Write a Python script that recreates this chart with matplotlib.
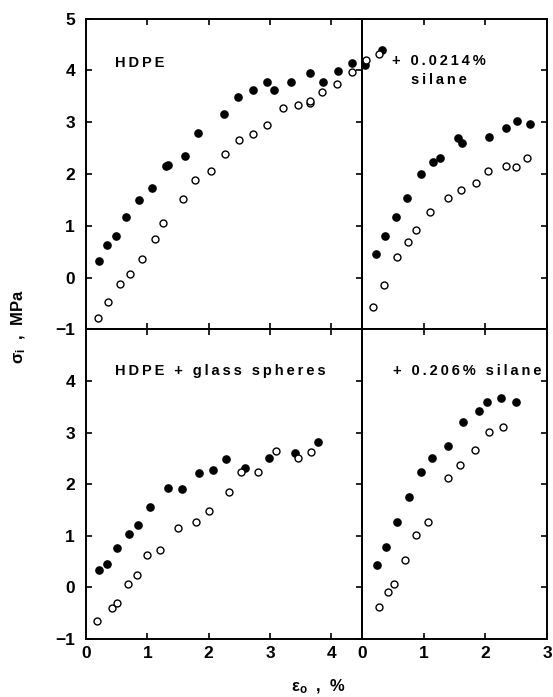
import matplotlib
matplotlib.use("Agg")
import matplotlib.pyplot as plt

plt.rcParams['font.family'] = ['Liberation Sans', 'DejaVu Sans']
plt.rcParams['font.weight'] = 'bold'
plt.rcParams['mathtext.fontset'] = 'custom'
plt.rcParams['mathtext.rm'] = 'Liberation Sans:bold'
plt.rcParams['mathtext.bf'] = 'Liberation Sans:bold'
plt.rcParams['mathtext.default'] = 'regular'

# HDPE (top left)
hdpe_fill_x = [0.21, 0.34, 0.49, 0.66, 0.86, 1.08, 1.31, 1.33, 1.61, 1.83, 2.25, 2.48, 2.73,
               2.95, 3.06, 3.35, 3.65, 3.86, 4.11, 4.33, 4.55, 4.83]
hdpe_fill_y = [0.32, 0.63, 0.81, 1.16, 1.50, 1.73, 2.15, 2.18, 2.35, 2.80, 3.16, 3.49, 3.63,
               3.78, 3.63, 3.77, 3.95, 3.77, 3.99, 4.15, 4.10, 4.39]
hdpe_open_x = [0.19, 0.36, 0.56, 0.72, 0.92, 1.13, 1.26, 1.58, 1.78, 2.03, 2.26, 2.49, 2.73,
               2.95, 3.21, 3.46, 3.65, 3.65, 3.85, 4.09, 4.33, 4.56, 4.78]
hdpe_open_y = [-0.78, -0.48, -0.13, 0.06, 0.36, 0.75, 1.05, 1.52, 1.88, 2.05, 2.38, 2.65, 2.78,
               2.94, 3.28, 3.34, 3.37, 3.41, 3.58, 3.74, 3.97, 4.21, 4.31]

# + 0.0214% silane (top right)
sil1_fill_x = [0.23, 0.38, 0.55, 0.73, 0.95, 1.15, 1.27, 1.56, 1.62, 2.06, 2.33, 2.52, 2.72]
sil1_fill_y = [0.45, 0.81, 1.16, 1.54, 2.00, 2.24, 2.30, 2.69, 2.60, 2.72, 2.89, 3.03, 2.96]
sil1_open_x = [0.18, 0.36, 0.57, 0.75, 0.88, 1.11, 1.40, 1.60, 1.85, 2.04, 2.33, 2.50, 2.67]
sil1_open_y = [-0.57, -0.15, 0.39, 0.69, 0.92, 1.26, 1.53, 1.70, 1.82, 2.06, 2.15, 2.13, 2.31]

# HDPE + glass spheres (bottom left)
glass_fill_x = [0.22, 0.35, 0.50, 0.70, 0.85, 1.05, 1.34, 1.57, 1.85, 2.07, 2.29, 2.60,
                2.98, 3.40, 3.78]
glass_fill_y = [0.34, 0.45, 0.77, 1.03, 1.20, 1.56, 1.93, 1.90, 2.22, 2.28, 2.49, 2.32,
                2.50, 2.60, 2.82]
glass_open_x = [0.18, 0.42, 0.51, 0.68, 0.83, 1.00, 1.20, 1.50, 1.80, 2.00, 2.33, 2.52,
                2.80, 3.10, 3.45, 3.67]
glass_open_y = [-0.65, -0.39, -0.31, 0.06, 0.24, 0.63, 0.72, 1.15, 1.27, 1.48, 1.84, 2.23,
                2.23, 2.65, 2.51, 2.62]

# + 0.206% silane (bottom right)
sil2_fill_x = [0.24, 0.39, 0.56, 0.77, 0.96, 1.14, 1.39, 1.63, 1.89, 2.02, 2.25, 2.50]
sil2_fill_y = [0.43, 0.79, 1.27, 1.75, 2.23, 2.51, 2.74, 3.21, 3.41, 3.59, 3.67, 3.59]
sil2_open_x = [0.27, 0.42, 0.52, 0.70, 0.87, 1.07, 1.39, 1.59, 1.84, 2.06, 2.28]
sil2_open_y = [-0.38, -0.08, 0.06, 0.54, 1.02, 1.27, 2.12, 2.38, 2.66, 3.01, 3.11]


def spaced(s):
    # the original lettering is widely tracked
    return '\u2009'.join(s)


W, H = 553, 697
fig = plt.figure(figsize=(W / 100, H / 100), dpi=100)

L, M, R = 86 / W, 362 / W, 547 / W
T, C, B = 1 - 18.7 / H, 1 - 329.3 / H, 1 - 639 / H

ax_tl = fig.add_axes([L, C, M - L, T - C])
ax_tr = fig.add_axes([M, C, R - M, T - C])
ax_bl = fig.add_axes([L, B, M - L, C - B])
ax_br = fig.add_axes([M, B, R - M, C - B])
ax_tl.set_zorder(3)
ax_bl.set_zorder(3)
for a in (ax_tl, ax_bl):
    a.patch.set_alpha(0)

panels = [
    (ax_tl, hdpe_fill_x, hdpe_fill_y, hdpe_open_x, hdpe_open_y),
    (ax_tr, sil1_fill_x, sil1_fill_y, sil1_open_x, sil1_open_y),
    (ax_bl, glass_fill_x, glass_fill_y, glass_open_x, glass_open_y),
    (ax_br, sil2_fill_x, sil2_fill_y, sil2_open_x, sil2_open_y),
]

for ax, fx, fy, ox, oy in panels:
    ax.plot(fx, fy, 'o', color='black', ms=5.2, clip_on=False, zorder=4)
    ax.plot(ox, oy, 'o', mfc='white', mec='black', mew=1.0, ms=5.0, clip_on=False, zorder=4)
    ax.set_ylim(-1, 5)
    for sp in ax.spines.values():
        sp.set_linewidth(1.4)
    ax.tick_params(direction='in', length=4, width=1.2, labelsize=12.5,
                   top=True, bottom=True, left=True, right=True, pad=5)

for ax in (ax_tl, ax_bl):
    ax.set_xlim(0, 4.5)
    ax.set_xticks([0, 1, 2, 3, 4])
for ax in (ax_tr, ax_br):
    ax.set_xlim(0, 3)
    ax.set_xticks([0, 1, 2, 3])
    ax.tick_params(left=False, labelleft=False)

ax_tl.set_yticks([-1, 0, 1, 2, 3, 4, 5])
ax_bl.set_yticks([-1, 0, 1, 2, 3, 4])
ax_tr.set_yticks([0, 1, 2, 3, 4])
ax_br.set_yticks([0, 1, 2, 3, 4])
for ax in (ax_tl, ax_bl):
    ax.tick_params(axis='y', pad=8)
for ax in (ax_tl, ax_tr):
    ax.tick_params(labelbottom=False)

fs = 10.5
fig.text(115 / W, 1 - 67 / H, spaced('HDPE'), fontsize=fs, va='baseline', zorder=6)
fig.text(439 / W, 1 - 65 / H, spaced('+ 0.0214%'), fontsize=fs, ha='center', va='baseline', zorder=6)
fig.text(439 / W, 1 - 84 / H, spaced('silane'), fontsize=fs, ha='center', va='baseline', zorder=6)
fig.text(115 / W, 1 - 375 / H, spaced('HDPE + glass spheres'), fontsize=fs, va='baseline', zorder=6)
fig.text(393 / W, 1 - 375 / H, spaced('+ 0.206% silane'), fontsize=fs, va='baseline', zorder=6)

fig.text(19 / W, 1 - 327 / H, r'$\mathrm{\sigma_i}$  ,  MPa', fontsize=12, rotation=90,
         ha='center', va='center')
fig.text(318 / W, 1 - 687 / H, r'$\mathrm{\varepsilon_o}$  ,  %', fontsize=12,
         ha='center', va='center')

fig.savefig('out.png', dpi=100)
